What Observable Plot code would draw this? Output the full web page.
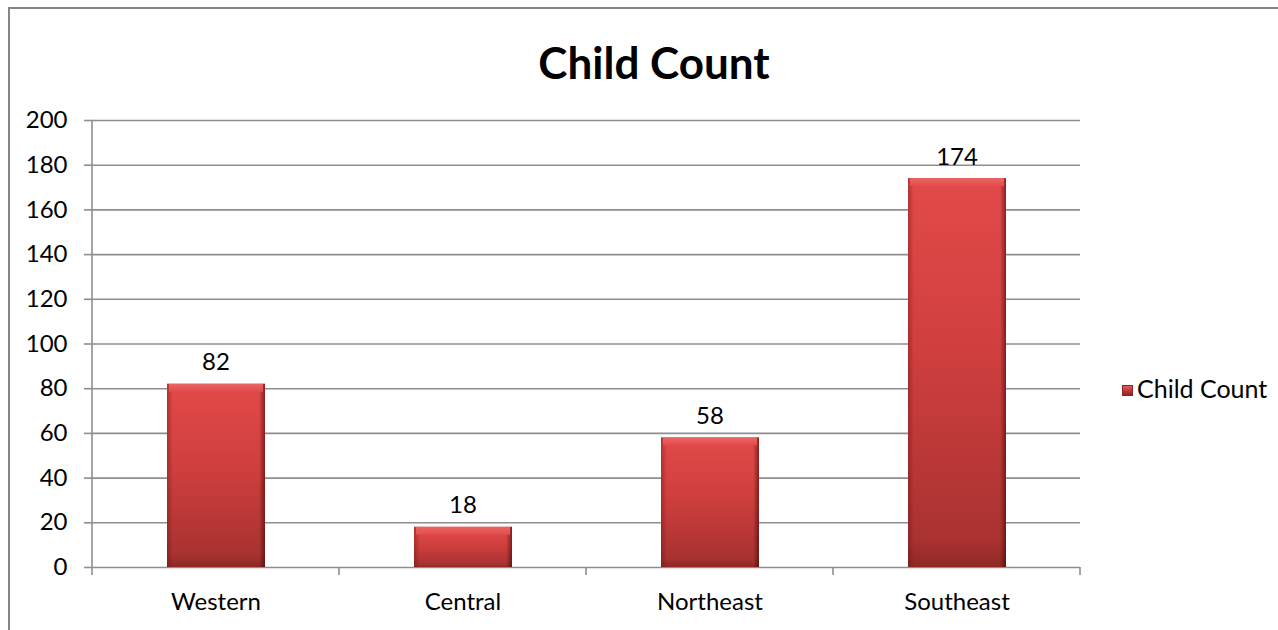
<!DOCTYPE html>
<html>
<head>
<meta charset="utf-8">
<script src="https://cdn.jsdelivr.net/npm/d3@7"></script>
<script src="https://cdn.jsdelivr.net/npm/@observablehq/plot@0.6"></script>
<style>
  html, body { margin: 0; padding: 0; width: 1278px; height: 630px; overflow: hidden; background: #fff; font-family: Lato, "Open Sans", sans-serif; }
  #frame { position: absolute; left: 8px; top: 7px; width: 1400px; height: 800px; border-left: 2px solid #868686; border-top: 2px solid #868686; box-sizing: border-box; }
  #title { position: absolute; left: 0; top: 36px; width: 1308px; text-align: center; font-weight: bold; font-size: 44px; line-height: 52px; color: #000; }
  #chart { position: absolute; left: 0; top: 100px; }
  #legend { position: absolute; left: 1122px; top: 373px; font-size: 25px; line-height: 30px; color: #000; white-space: nowrap; }
  #legend .sw { display: inline-block; width: 11px; height: 11px; margin-right: 4px; vertical-align: 2px; background: linear-gradient(#e65a58, #b63634 60%, #8f2725); border: 0.5px solid #8a2422; box-sizing: border-box; }
</style>
</head>
<body>
<div id="frame"></div>
<div id="title">Child Count</div>
<div id="chart"></div>
<div id="legend"><span class="sw"></span>Child Count</div>
<script>
const categories = ["Western", "Central", "Northeast", "Southeast"];
const values = [82, 18, 58, 174];
const yTicks = [0, 20, 40, 60, 80, 100, 120, 140, 160, 180, 200];
const seriesName = "Child Count";

const data = categories.map((c, i) => ({region: c, count: values[i]}));
const gridColor = "#8e8e8e";

// defs for gradients
function defsMark() {
  const g = d3.create("svg:g");
  const defs = g.append("defs");
  const v = defs.append("linearGradient").attr("id", "barGrad").attr("x1", 0).attr("y1", 0).attr("x2", 0).attr("y2", 1);
  [[0, "#e24a49"], [0.45, "#cf3f3e"], [0.93, "#a93231"], [1, "#8e2826"]].forEach(([o, c]) =>
    v.append("stop").attr("offset", o).attr("stop-color", c));
  const h = defs.append("linearGradient").attr("id", "edgeGrad").attr("x1", 0).attr("y1", 0).attr("x2", 1).attr("y2", 0);
  [[0, "#5a0a0a", 0.35], [0.06, "#5a0a0a", 0], [0.94, "#3a0000", 0], [1, "#3a0000", 0.55]].forEach(([o, c, a]) =>
    h.append("stop").attr("offset", o).attr("stop-color", c).attr("stop-opacity", a));
  const t = defs.append("linearGradient").attr("id", "topGrad").attr("x1", 0).attr("y1", 0).attr("x2", 0).attr("y2", 1);
  [[0, "#ec6664"], [1, "#e04c4a"]].forEach(([o, c]) =>
    t.append("stop").attr("offset", o).attr("stop-color", c));
  return () => g.node();
}

// category boundary ticks + vertical axis line, derived from the scales
function frameMark(index, scales, values, dimensions) {
  const g = d3.create("svg:g").attr("stroke", gridColor).attr("stroke-width", 1.6);
  const x = scales.x;
  const bw = typeof x.bandwidth === "function" ? x.bandwidth() : x.bandwidth;
  const y0 = scales.y(0), yTop = scales.y(200);
  const edges = categories.map(c => x(c)).concat([x(categories[categories.length - 1]) + bw]);
  g.selectAll("line.e").data(edges).join("line").attr("class", "e")
    .attr("x1", d => d).attr("x2", d => d).attr("y1", y0).attr("y2", y0 + 8);
  g.append("line").attr("x1", edges[0]).attr("x2", edges[0]).attr("y1", yTop).attr("y2", y0);
  return g.node();
}

const chart = Plot.plot({
  width: 1278,
  height: 530,
  marginTop: 20,
  marginBottom: 63,
  marginLeft: 92,
  marginRight: 198,
  style: {fontFamily: "Lato, 'Open Sans', sans-serif", fontSize: "24px", color: "#000", background: "transparent", overflow: "visible"},
  x: {domain: categories, padding: 0, label: null},
  y: {domain: [0, 200], ticks: yTicks, label: null},
  marks: [
    defsMark(),
    Plot.ruleY(yTicks, {stroke: gridColor, strokeWidth: 1.6}),
    Plot.axisY({ticks: yTicks, tickSize: 8, tickPadding: 17, stroke: gridColor, strokeWidth: 1.6, label: null, fontSize: 24}),
    Plot.axisX({tickSize: 0, tickPadding: 25, label: null, fontSize: 24}),
    frameMark,
    Plot.barY(data, {x: "region", y: "count", fill: "url(#barGrad)", insetLeft: 75, insetRight: 74}),
    Plot.barY(data, {x: "region", y: "count", fill: "url(#edgeGrad)", insetLeft: 75, insetRight: 74}),
    Plot.barY(data, {x: "region", y1: "count", y2: "count", insetBottom: -8, fill: "url(#topGrad)", insetLeft: 77, insetRight: 76}),
    Plot.text(data, {x: "region", y: "count", text: d => String(d.count), lineAnchor: "bottom", dy: -14, fontSize: 24, fill: "#000"})
  ]
});
document.getElementById("chart").appendChild(chart);
</script>
</body>
</html>
